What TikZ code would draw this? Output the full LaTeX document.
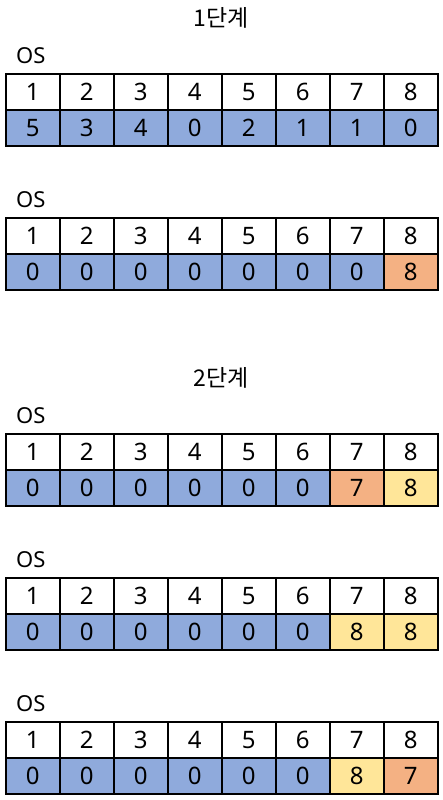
\documentclass[tikz,border=0pt]{standalone}
\usepackage{fontspec}
\setmainfont{Noto Sans}
\newfontfamily\kr{Noto Sans CJK KR}
\definecolor{cblue}{HTML}{8FAADC}
\definecolor{corange}{HTML}{F4B183}
\definecolor{cyellow}{HTML}{FFE699}
\begin{document}
\begin{tikzpicture}[x=1pt,y=-1pt,
  cell/.style={draw=black,line width=1.5pt,minimum width=54pt,minimum height=36pt,inner sep=0pt,anchor=north west,text height=17pt,text depth=0pt,font=\fontsize{24}{28}\selectfont},
  lbl/.style={anchor=west,inner sep=0pt,font=\fontsize{22}{26}\selectfont},
  ttl/.style={inner sep=0pt,font=\kr\fontsize{23}{26}\selectfont}]
\useasboundingbox (0,0) rectangle (442,800);
\node[ttl] (t1) at (221,18) {1단계};
\node[ttl] (t2) at (221,378) {2단계};
\def\drawtable#1#2#3{%
  \node[lbl] (os#1) at (16,#2-17) {OS};
  \foreach \n [count=\i] in {1,...,8} {
    \node[cell] (h#1\i) at ({5+54*(\i-1)},#2) {\n};
  }
  \foreach \v/\c [count=\i] in {#3} {
    \node[cell,fill=\c] (v#1\i) at ({5+54*(\i-1)},#2+36) {\v};
  }
}
\drawtable{a}{73}{5/cblue,3/cblue,4/cblue,0/cblue,2/cblue,1/cblue,1/cblue,0/cblue}
\drawtable{b}{217}{0/cblue,0/cblue,0/cblue,0/cblue,0/cblue,0/cblue,0/cblue,8/corange}
\drawtable{c}{433}{0/cblue,0/cblue,0/cblue,0/cblue,0/cblue,0/cblue,7/corange,8/cyellow}
\drawtable{d}{577}{0/cblue,0/cblue,0/cblue,0/cblue,0/cblue,0/cblue,8/cyellow,8/cyellow}
\drawtable{e}{721}{0/cblue,0/cblue,0/cblue,0/cblue,0/cblue,0/cblue,8/cyellow,7/corange}
\end{tikzpicture}
\end{document}
